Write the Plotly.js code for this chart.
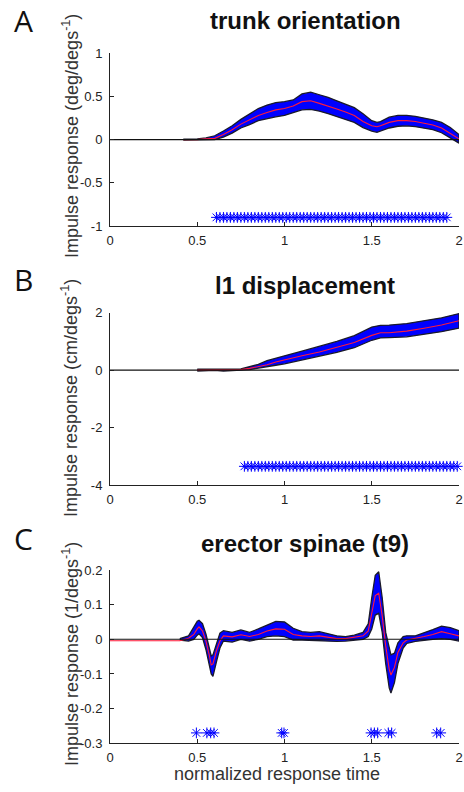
<!DOCTYPE html>
<html>
<head>
<meta charset="utf-8">
<script src="https://cdn.plot.ly/plotly-3.0.1.min.js"></script>
<style>html,body{margin:0;padding:0;background:#fff;}#chart{width:464px;height:792px;}</style>
</head>
<body>
<div id="chart"></div>
<script>
// ---------- Panel A: trunk orientation ----------
const xA = [0.42,0.5,0.55,0.6,0.65,0.7,0.75,0.8,0.85,0.9,0.95,1.0,1.05,1.1,1.15,1.2,1.25,1.3,1.35,1.4,1.45,1.5,1.53,1.55,1.6,1.65,1.7,1.75,1.8,1.85,1.9,1.95,2.0];
const meanA = [0,0,0.01,0.015,0.06,0.115,0.18,0.23,0.28,0.315,0.345,0.36,0.39,0.44,0.45,0.42,0.39,0.355,0.32,0.28,0.21,0.16,0.15,0.16,0.2,0.22,0.22,0.21,0.19,0.17,0.135,0.075,0.01];
const upperA = [0.005,0.008,0.02,0.045,0.1,0.16,0.235,0.3,0.36,0.4,0.43,0.44,0.46,0.53,0.55,0.52,0.49,0.45,0.41,0.37,0.3,0.22,0.2,0.21,0.26,0.28,0.28,0.27,0.25,0.23,0.2,0.14,0.06];
const lowerA = [-0.005,-0.005,0,0,0.03,0.075,0.135,0.175,0.22,0.245,0.265,0.28,0.31,0.345,0.35,0.33,0.3,0.27,0.235,0.2,0.14,0.1,0.085,0.1,0.135,0.155,0.16,0.15,0.135,0.115,0.08,0.02,-0.04];
const sigA = [0.61,0.63,0.65,0.67,0.69,0.71,0.73,0.75,0.77,0.79,0.81,0.83,0.85,0.87,0.89,0.91,0.93,0.95,0.97,0.99,1.01,1.03,1.05,1.07,1.09,1.11,1.13,1.15,1.17,1.19,1.21,1.23,1.25,1.27,1.29,1.31,1.33,1.35,1.37,1.39,1.41,1.43,1.45,1.47,1.49,1.51,1.53,1.55,1.57,1.59,1.61,1.63,1.65,1.67,1.69,1.71,1.73,1.75,1.77,1.79,1.81,1.83,1.85,1.87,1.89,1.91,1.93];
const sigLevelA = -0.9;

// ---------- Panel B: l1 displacement ----------
const xB = [0.5,0.55,0.6,0.65,0.7,0.75,0.8,0.85,0.9,0.95,1.0,1.1,1.2,1.3,1.4,1.5,1.55,1.6,1.7,1.8,1.9,2.0];
const meanB = [0,0,0,0,0,0.02,0.06,0.12,0.19,0.28,0.36,0.5,0.63,0.79,0.96,1.21,1.3,1.3,1.36,1.46,1.57,1.72];
const upperB = [0.03,0.03,0.01,0.03,0.03,0.04,0.12,0.2,0.33,0.42,0.5,0.66,0.82,1.0,1.2,1.5,1.56,1.57,1.62,1.72,1.82,1.97];
const lowerB = [-0.03,-0.03,-0.01,-0.03,-0.02,0,0.02,0.06,0.12,0.17,0.22,0.36,0.48,0.62,0.78,1.04,1.12,1.13,1.16,1.24,1.34,1.46];
const sigB = [0.77,0.79,0.81,0.83,0.85,0.87,0.89,0.91,0.93,0.95,0.97,0.99,1.01,1.03,1.05,1.07,1.09,1.11,1.13,1.15,1.17,1.19,1.21,1.23,1.25,1.27,1.29,1.31,1.33,1.35,1.37,1.39,1.41,1.43,1.45,1.47,1.49,1.51,1.53,1.55,1.57,1.59,1.61,1.63,1.65,1.67,1.69,1.71,1.73,1.75,1.77,1.79,1.81,1.83,1.85,1.87,1.89,1.91,1.93,1.95,1.97,1.99];
const sigLevelB = -3.35;

// ---------- Panel C: erector spinae (t9) ----------
const xC = [0,0.4,0.45,0.48,0.5,0.51,0.53,0.55,0.57,0.58,0.59,0.61,0.63,0.65,0.7,0.75,0.8,0.85,0.9,0.95,1.0,1.05,1.1,1.15,1.2,1.25,1.3,1.35,1.4,1.45,1.48,1.5,1.52,1.54,1.56,1.58,1.6,1.61,1.63,1.65,1.68,1.7,1.75,1.8,1.85,1.9,1.95,2.0];
const meanC = [-0.004,-0.004,0.003,0.014,0.03,0.036,0.024,-0.005,-0.048,-0.074,-0.071,-0.033,-0.005,0.01,0.007,0.013,0.008,0.014,0.024,0.03,0.029,0.014,0.01,0.008,0.01,0.005,0.002,0.002,0.005,0.01,0.024,0.071,0.126,0.133,0.067,-0.019,-0.086,-0.103,-0.081,-0.038,-0.01,-0.002,0.002,0.008,0.014,0.022,0.016,0.01];
const upperC = [0,0.002,0.01,0.035,0.052,0.055,0.045,0.015,-0.025,-0.048,-0.045,-0.01,0.018,0.025,0.02,0.027,0.02,0.03,0.042,0.052,0.05,0.032,0.022,0.02,0.022,0.015,0.01,0.008,0.012,0.02,0.045,0.12,0.185,0.195,0.12,0.02,-0.03,-0.045,-0.04,-0.01,0.008,0.01,0.01,0.018,0.028,0.038,0.034,0.025];
const lowerC = [0,-0.002,-0.005,0,0.012,0.016,0.005,-0.03,-0.075,-0.1,-0.107,-0.065,-0.025,-0.005,-0.008,0,-0.005,0,0.008,0.01,0.008,-0.002,-0.002,-0.003,-0.002,-0.005,-0.006,-0.005,-0.003,0,0.008,0.03,0.07,0.075,0.02,-0.07,-0.14,-0.155,-0.125,-0.07,-0.025,-0.012,-0.006,-0.002,0,0.002,0,-0.005];
const sigC = [0.495,0.555,0.577,0.596,0.984,0.997,1.496,1.515,1.534,1.595,1.614,1.872,1.895];
const sigLevelC = -0.27;

// ---------- text ----------
const panelTitles = ['trunk orientation','l1 displacement','erector spinae (t9)'];
const panelLetters = ['A','B','C'];
const yTitles = ['Impulse response (deg/degs<sup>-1</sup>)','Impulse response (cm/degs<sup>-1</sup>)','Impulse response (1/degs<sup>-1</sup>)'];
const xTitle = 'normalized response time';
const xTicks = [0,0.5,1,1.5,2];
const xTickText = ['0','0.5','1','1.5','2'];
const yTicksA = [-1,-0.5,0,0.5,1];
const yTickTextA = ['-1','-0.5','0','0.5','1'];
const yTicksB = [-4,-2,0,2];
const yTickTextB = ['-4','-2','0','2'];
const yTicksC = [-0.3,-0.2,-0.1,0,0.1,0.2];
const yTickTextC = ['-0.3','-0.2','-0.1','0','0.1','0.2'];

// ---------- build ----------
const W = 464, H = 792;
const px = v => v / W;
const py = v => 1 - v / H;

function panel(xs, mean, up, lo, bandStart, sig, sigLevel, xa, ya) {
  const bx = xs.slice(bandStart), bu = up.slice(bandStart), bl = lo.slice(bandStart);
  const polyX = bx.concat(bx.slice().reverse());
  const polyY = bu.concat(bl.slice().reverse());
  return [
    {x: polyX, y: polyY, xaxis: xa, yaxis: ya, mode: 'lines', fill: 'toself',
     fillcolor: '#0000ff', line: {color: '#1a1a2a', width: 1.3}, hoverinfo: 'skip', showlegend: false},
    {x: xs, y: mean, xaxis: xa, yaxis: ya, mode: 'lines',
     line: {color: '#ff1a3a', width: 1.1}, showlegend: false},
    {x: [0, 2], y: [0, 0], xaxis: xa, yaxis: ya, mode: 'lines',
     line: {color: '#111', width: 1.1}, showlegend: false},
    {x: sig, y: sig.map(() => sigLevel), xaxis: xa, yaxis: ya, mode: 'markers', cliponaxis: false,
     marker: {symbol: 'asterisk', size: 9, color: '#0000ff', line: {color: '#0000ff', width: 1}}, showlegend: false}
  ];
}

const traces = [].concat(
  panel(xA, meanA, upperA, lowerA, 0, sigA, sigLevelA, 'x', 'y'),
  panel(xB, meanB, upperB, lowerB, 0, sigB, sigLevelB, 'x2', 'y2'),
  panel(xC, meanC, upperC, lowerC, 1, sigC, sigLevelC, 'x3', 'y3')
);

const tickFont = {family: 'Liberation Sans, Arial, sans-serif', size: 13, color: '#222'};
function xax(anchor) {
  return {domain: [px(110), px(459)], anchor: anchor, range: [0, 2], tickvals: xTicks, ticktext: xTickText,
    ticks: 'inside', ticklen: 4, tickcolor: '#222', showline: true, linecolor: '#222', linewidth: 1,
    showgrid: false, zeroline: false, tickfont: tickFont, ticklabelstandoff: 2, fixedrange: true};
}
function yax(anchor, top, bottom, range, tv, tt) {
  return {domain: [py(bottom), py(top)], anchor: anchor, range: range, tickvals: tv, ticktext: tt,
    ticks: 'inside', ticklen: 4, tickcolor: '#222', showline: true, linecolor: '#222', linewidth: 1,
    showgrid: false, zeroline: false, tickfont: tickFont, ticklabelstandoff: 4, fixedrange: true};
}

const ann = [];
const titleY = [20, 285, 543];
const letterY = [21, 279, 538];
const yTitleY = [136, 398, 654];
for (let i = 0; i < 3; i++) {
  ann.push({text: '<b>' + panelTitles[i] + '</b>', xref: 'paper', yref: 'paper', x: px(305), y: py(titleY[i]),
    xanchor: 'center', yanchor: 'middle', showarrow: false,
    font: {family: 'Liberation Sans, Arial, sans-serif', size: 24, color: '#111'}});
  ann.push({text: panelLetters[i], xref: 'paper', yref: 'paper', x: px(23), y: py(letterY[i]),
    xanchor: 'center', yanchor: 'middle', showarrow: false,
    font: {family: 'Open Sans, sans-serif', size: 30, color: '#111'}});
  ann.push({text: yTitles[i], xref: 'paper', yref: 'paper', x: px(70), y: py(yTitleY[i]), textangle: -90,
    xanchor: 'center', yanchor: 'middle', showarrow: false,
    font: {family: 'Liberation Sans, Arial, sans-serif', size: 18, color: '#333'}});
}
ann.push({text: xTitle, xref: 'paper', yref: 'paper', x: px(277), y: py(774),
  xanchor: 'center', yanchor: 'middle', showarrow: false,
  font: {family: 'Liberation Sans, Arial, sans-serif', size: 18, color: '#333'}});

const layout = {
  width: W, height: H, margin: {l: 0, r: 0, t: 0, b: 0},
  paper_bgcolor: '#fff', plot_bgcolor: '#fff', showlegend: false,
  xaxis: xax('y'), xaxis2: xax('y2'), xaxis3: xax('y3'),
  yaxis: yax('x', 53.3, 226, [-1, 1], yTicksA, yTickTextA),
  yaxis2: yax('x2', 312.7, 485, [-4, 2], yTicksB, yTickTextB),
  yaxis3: yax('x3', 570, 743.3, [-0.3, 0.2], yTicksC, yTickTextC),
  annotations: ann
};

Plotly.newPlot('chart', traces, layout, {displayModeBar: false, staticPlot: true});
</script>
</body>
</html>
